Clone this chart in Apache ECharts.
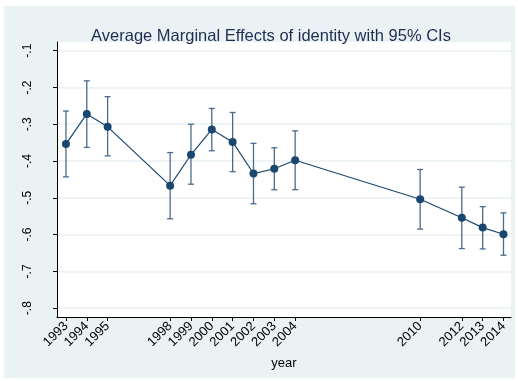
<!DOCTYPE html>
<html><head><meta charset="utf-8">
<script src="https://cdn.jsdelivr.net/npm/echarts@6/dist/echarts.min.js"></script>
<style>html,body{margin:0;padding:0;background:#fff}#c{width:518px;height:381px}</style>
</head><body><div id="c"></div>
<script>
var years = [1993,1994,1995,1998,1999,2000,2001,2002,2003,2004,2010,2012,2013,2014];
var effects = [-0.354,-0.272,-0.307,-0.467,-0.383,-0.314,-0.348,-0.434,-0.421,-0.398,-0.504,-0.554,-0.581,-0.599];
var ciLow = [-0.443,-0.363,-0.386,-0.557,-0.463,-0.372,-0.429,-0.516,-0.478,-0.478,-0.585,-0.638,-0.639,-0.656];
var ciHigh = [-0.264,-0.182,-0.225,-0.377,-0.300,-0.257,-0.268,-0.352,-0.364,-0.318,-0.423,-0.471,-0.524,-0.541];
var yTicks = [-0.1,-0.2,-0.3,-0.4,-0.5,-0.6,-0.7,-0.8];
var titleText = 'Average Marginal Effects of identity with 95% CIs';
var xName = 'year';

var lineData = years.map(function(y,i){return [y, effects[i]];});
var ciData = years.map(function(y,i){return [y, ciLow[i], ciHigh[i]];});
var chart = echarts.init(document.getElementById('c'), null, {renderer:'canvas'});
var font = '"Liberation Sans", Arial, sans-serif';
chart.setOption({
  animation:false,
  backgroundColor:'#ffffff',
  graphic:[{type:'rect', z:-10, shape:{x:4,y:6,width:511,height:372}, style:{fill:'#EAF2F3'}},
           {type:'rect', z:-9, shape:{x:57,y:42,width:454,height:275}, style:{fill:'#ffffff'}}],
  title:{text:titleText, left:266, top:23, textAlign:'center',
    textStyle:{fontFamily:font, fontSize:16.5, fontWeight:'normal', color:'#1e2d53'}},
  grid:{left:57, top:42, width:454, height:275, containLabel:false},
  xAxis:{type:'value', min:1992.57, max:2014.36,
    name:xName, nameLocation:'middle', nameGap:40,
    nameTextStyle:{fontFamily:font, fontSize:13, color:'#000'},
    axisLine:{show:true, onZero:false, lineStyle:{color:'#000', width:1}},
    axisTick:{show:true, length:4, customValues:years, lineStyle:{color:'#000'}},
    axisLabel:{customValues:years, rotate:45, margin:7, fontFamily:font, fontSize:13, color:'#000',
      formatter:function(v){return String(Math.round(v));}},
    splitLine:{show:false}},
  yAxis:{type:'value', min:-0.824, max:-0.0764,
    axisLine:{show:true, lineStyle:{color:'#000', width:1}},
    axisTick:{show:true, length:4, customValues:yTicks, lineStyle:{color:'#000'}},
    axisLabel:{customValues:yTicks, rotate:90, margin:23, fontFamily:font, fontSize:12, color:'#000',
      formatter:function(v){return String(Math.round(v*10)/10).replace('0.','.');}},
    splitLine:{show:true, lineStyle:{color:'#EAF2F3', width:1.5}}},
  series:[
    {type:'custom', data:ciData, z:2,
     renderItem:function(params, api){
       var x = api.value(0);
       var lo = api.coord([x, api.value(1)]);
       var hi = api.coord([x, api.value(2)]);
       var w = 3;
       var st = {stroke:'#4a6b8c', lineWidth:1.3};
       return {type:'group', children:[
         {type:'line', shape:{x1:lo[0],y1:lo[1],x2:hi[0],y2:hi[1]}, style:st},
         {type:'line', shape:{x1:lo[0]-w,y1:lo[1],x2:lo[0]+w,y2:lo[1]}, style:st},
         {type:'line', shape:{x1:hi[0]-w,y1:hi[1],x2:hi[0]+w,y2:hi[1]}, style:st}
       ]};
     }},
    {type:'line', data:lineData, z:3, symbol:'circle', symbolSize:8,
     lineStyle:{color:'#1a476f', width:1.2}, itemStyle:{color:'#1a476f'}}
  ]
});
</script></body></html>
